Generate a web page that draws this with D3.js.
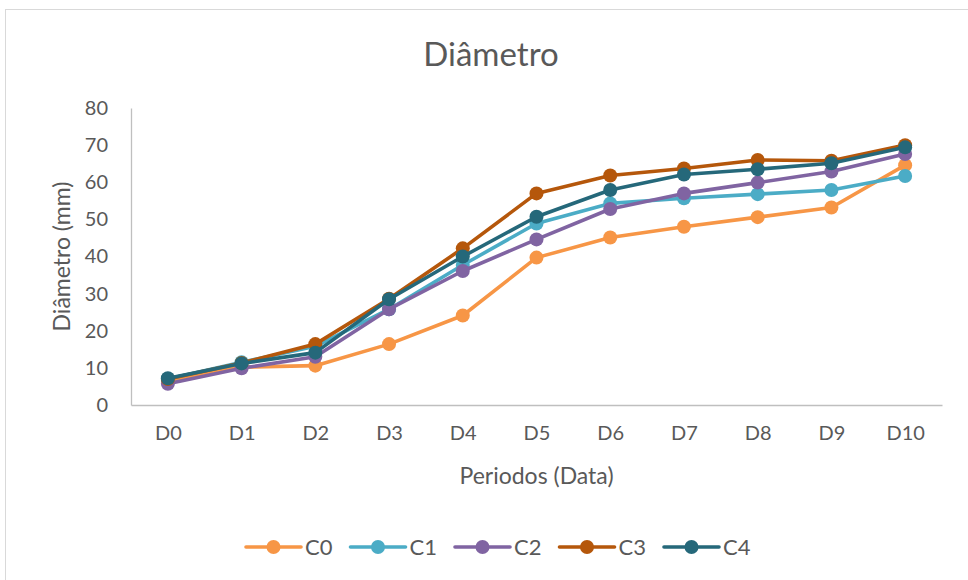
<!DOCTYPE html>
<html>
<head>
<meta charset="utf-8">
<script src="https://cdn.jsdelivr.net/npm/d3@7"></script>
<style>
  body { margin: 0; background: #fff; }
  svg { font-family: Lato, "Open Sans", sans-serif; }
</style>
</head>
<body>
<div id="chart"></div>
<script>
// data
var periods = ["D0","D1","D2","D3","D4","D5","D6","D7","D8","D9","D10"]
var seriesNames = ["C0","C1","C2","C3","C4"]
var c0 = [6.5, 10.2, 10.6, 16.4, 24.1, 39.7, 45.1, 48.0, 50.6, 53.2, 64.6]
var c1 = [7.0, 11.5, 15.8, 25.8, 37.7, 48.9, 54.3, 55.7, 56.8, 57.9, 61.7]
var c2 = [5.7, 9.9, 13.0, 25.8, 36.1, 44.6, 52.8, 57.0, 59.9, 62.9, 67.6]
var c3 = [7.0, 11.3, 16.4, 28.6, 42.2, 57.0, 61.8, 63.7, 66.0, 65.8, 70.0]
var c4 = [7.2, 11.2, 14.1, 28.5, 40.0, 50.7, 57.9, 62.1, 63.5, 65.1, 69.4]
var yTicks = [0, 10, 20, 30, 40, 50, 60, 70, 80]
var colors = ["#F79646", "#4BACC6", "#8064A2", "#B5570B", "#25687A"]

var allSeries = [c0, c1, c2, c3, c4]

var W = 968, H = 580
var margin = {top: 108, right: 26, bottom: 175, left: 131}
var textColor = "#595959"

var svg = d3.select("#chart").append("svg")
  .attr("width", W)
  .attr("height", H)

// chart outline
svg.append("rect")
  .attr("x", 5.5).attr("y", 9.5)
  .attr("width", W).attr("height", H)
  .attr("fill", "none")
  .attr("stroke", "#D9D9D9")
  .attr("stroke-width", 1)

var x = d3.scalePoint()
  .domain(periods)
  .range([margin.left, W - margin.right])
  .padding(0.5)

var y = d3.scaleLinear()
  .domain([0, 80])
  .range([H - margin.bottom, margin.top])

// y axis
svg.append("g")
  .attr("transform", `translate(${margin.left},0)`)
  .call(d3.axisLeft(y).tickValues(yTicks).tickSize(0).tickPadding(23))
  .call(g => g.select(".domain").attr("stroke", "#BFBFBF").attr("stroke-width", 1.3))
  .call(g => g.selectAll("text")
    .attr("fill", textColor)
    .attr("font-size", 20)
    .attr("font-family", "Lato, sans-serif"))

// x axis
svg.append("g")
  .attr("transform", `translate(0,${y(0)})`)
  .call(d3.axisBottom(x).tickSize(0).tickPadding(21).tickSizeOuter(0))
  .call(g => g.select(".domain").attr("stroke", "#BFBFBF").attr("stroke-width", 1.3))
  .call(g => g.selectAll("text")
    .attr("fill", textColor)
    .attr("font-size", 20)
    .attr("font-family", "Lato, sans-serif"))

// lines + markers
var drawLine = d3.line()
  .x((d, i) => x(periods[i]))
  .y(d => y(d))

allSeries.forEach(function(vals, k) {
  svg.append("path")
    .datum(vals)
    .attr("fill", "none")
    .attr("stroke", colors[k])
    .attr("stroke-width", 3.6)
    .attr("stroke-linejoin", "round")
    .attr("stroke-linecap", "round")
    .attr("d", drawLine)

  svg.append("g")
    .selectAll("circle")
    .data(vals)
    .join("circle")
      .attr("cx", (d, i) => x(periods[i]))
      .attr("cy", d => y(d))
      .attr("r", 7)
      .attr("fill", colors[k])
})

// title
svg.append("text")
  .attr("x", 491)
  .attr("y", 66)
  .attr("text-anchor", "middle")
  .attr("fill", textColor)
  .attr("font-size", 33)
  .text("Diâmetro")

// axis titles
svg.append("text")
  .attr("transform", `translate(70,${(y(0) + y(80)) / 2}) rotate(-90)`)
  .attr("text-anchor", "middle")
  .attr("fill", textColor)
  .attr("font-size", 23)
  .text("Diâmetro (mm)")

svg.append("text")
  .attr("x", (margin.left + W - margin.right) / 2)
  .attr("y", 484)
  .attr("text-anchor", "middle")
  .attr("fill", textColor)
  .attr("font-size", 23)
  .text("Periodos (Data)")

// legend
var legend = svg.append("g")
  .selectAll("g")
  .data(seriesNames)
  .join("g")
    .attr("transform", (d, i) => `translate(${246 + i * 104.5},547)`)

legend.append("line")
  .attr("x1", 0).attr("x2", 55)
  .attr("stroke", (d, i) => colors[i])
  .attr("stroke-width", 3.6)
  .attr("stroke-linecap", "round")
legend.append("circle")
  .attr("cx", 27.5)
  .attr("r", 7)
  .attr("fill", (d, i) => colors[i])
legend.append("text")
  .attr("x", 59)
  .attr("dy", "0.35em")
  .attr("fill", textColor)
  .attr("font-size", 22)
  .text(d => d)
</script>
</body>
</html>
